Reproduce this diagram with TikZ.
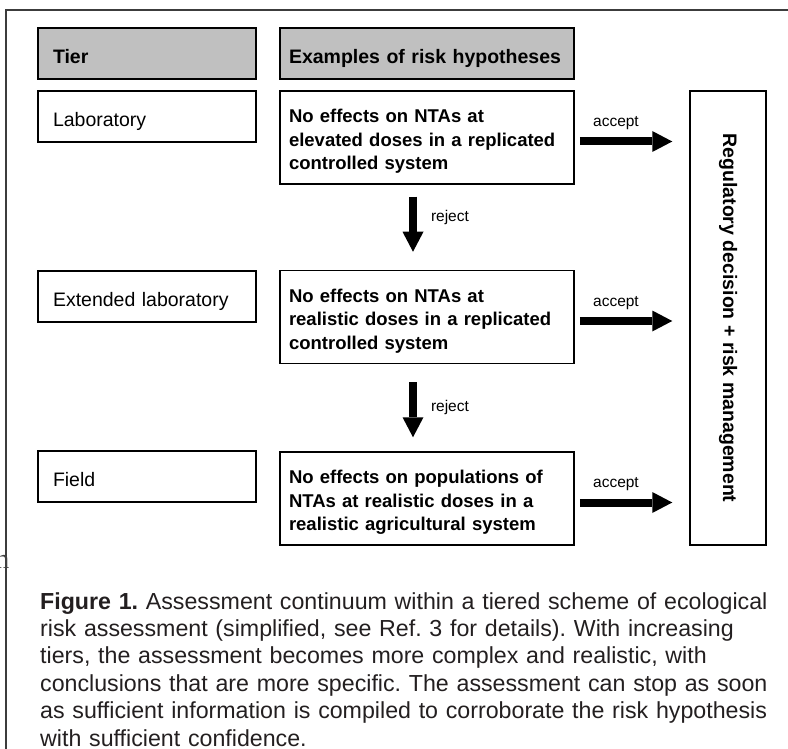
\documentclass[tikz,border=0pt]{standalone}
\usepackage{fontspec}
\setmainfont{Liberation Sans}
\newfontfamily\stubserif{Liberation Serif}
\usetikzlibrary{arrows.meta}
\definecolor{hdrgray}{RGB}{192,192,192}
\definecolor{captxt}{RGB}{35,31,32}
\definecolor{framegray}{RGB}{60,60,60}
\tikzset{
  tbox/.style    = {draw=black, line width=1.5pt, align=left, inner ysep=0pt,
                    text width=188pt, inner xsep=15pt, minimum height=51pt,
                    text height=20pt, text depth=0pt,
                    font=\fontsize{19.5}{23}\selectfont},
  thead/.style   = {tbox, fill=hdrgray, font=\fontsize{19.5}{23}\selectfont\bfseries},
  % hypothesis boxes: fixed text width, lines broken by hand
  hbox/.style    = {draw=black, line width=1.5pt, align=left, inner ysep=0pt,
                    text width=276pt, inner xsep=9pt, minimum height=93pt,
                    execute at begin node={\rule{0pt}{21.5pt}},
                    font=\fontsize{18.5}{23.5}\selectfont\bfseries},
  hhead/.style   = {tbox, fill=hdrgray, text width=276pt, inner xsep=9pt,
                    font=\fontsize{19.5}{23}\selectfont\bfseries},
  decbox/.style  = {draw=black, line width=1.5pt, minimum width=76pt,
                    minimum height=454pt},
  flow/.style    = {line width=8pt,
                    -{Triangle[width=21pt, length=20pt, line width=0pt]}},
  flowlbl/.style = {font=\fontsize{15.5}{17}\selectfont, inner sep=0pt},
}

\begin{document}
\begin{tikzpicture}[x=1pt, y=-1pt]
    \useasboundingbox (0,0) rectangle (788,749);

    \draw[framegray, line width=2pt] (788,10) -- (6,10) -- (6,749);
    \node[font=\fontsize{28}{28}\stubserif, text=black!75, inner sep=0pt,
          anchor=base east] (stub) at (9.5,568) {n};

    \node[thead] (tierhd) at (147, 53.5) {Tier};
    \node[hhead] (hyphd)  at (427, 53.5) {Examples of risk hypotheses};

    \node[tbox] (lab)   at (147, 116.5) {Laboratory};
    \node[tbox] (ext)   at (147, 296.5) {Extended laboratory};
    \node[tbox] (field) at (147, 476.5) {Field};

    \node[hbox] (hyp1) at (427, 137.5)
        {No effects on NTAs at\\elevated doses in a replicated\\controlled system};
    \node[hbox] (hyp2) at (427, 317)
        {No effects on NTAs at\\realistic doses in a replicated\\controlled system};
    \node[hbox] (hyp3) at (427, 498.5)
        {No effects on populations of\\NTAs at realistic doses in a\\realistic agricultural system};

    \node[decbox] (dec) at (728, 318) {};
    \node[rotate=-90, font=\fontsize{19.5}{23}\selectfont\bfseries]
        (dectxt) at (dec.center) {Regulatory decision + risk management};

    \draw[flow, shorten <=12pt, shorten >=18pt]
        ([xshift=-14pt]hyp1.south) -- ([xshift=-14pt]hyp2.north)
        node[flowlbl, anchor=west, pos=0.38, xshift=14pt] {reject};
    \draw[flow, shorten <=18pt, shorten >=14pt]
        ([xshift=-14pt]hyp2.south) -- ([xshift=-14pt]hyp3.north)
        node[flowlbl, anchor=west, pos=0.5, xshift=14pt] {reject};

    \foreach \h in {hyp1, hyp2, hyp3}
        \draw[flow, shorten <=5pt, shorten >=17pt]
            ([yshift=-4pt]\h.east) -- ([yshift=-4pt]\h.east -| dec.west)
            node[flowlbl, pos=0.36, yshift=18pt] {accept};

    \node[anchor=north west, inner sep=0pt, align=left, text width=745pt,
          text=captxt, font=\fontsize{23.2}{27.4}\selectfont\frenchspacing]
          (caption) at (40,592)
        {\textbf{Figure 1.} Assessment continuum within a tiered scheme of ecological\\
         risk assessment (simplified, see Ref. 3 for details). With increasing\\
         tiers, the assessment becomes more complex and realistic, with\\
         conclusions that are more specific. The assessment can stop as soon\\
         as sufficient information is compiled to corroborate the risk hypothesis\\
         with sufficient confidence.};
\end{tikzpicture}
\end{document}
